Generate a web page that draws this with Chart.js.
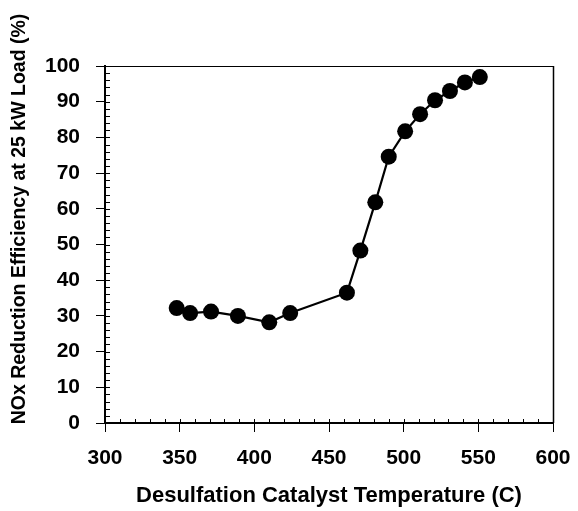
<!DOCTYPE html>
<html>
<head>
<meta charset="utf-8">
<script src="https://cdn.jsdelivr.net/npm/chart.js@4/dist/chart.umd.min.js"></script>
<style>
html,body{margin:0;padding:0;background:#fff;}
#wrap{width:578px;height:511px;position:relative;}
</style>
</head>
<body>
<div id="wrap"><canvas id="c" width="578" height="511"></canvas></div>
<script>
const temperatures = [348, 357, 371, 389, 410, 424, 462, 471, 481, 490, 501, 511, 521, 531, 541, 551];
const efficiency   = [32.2, 30.8, 31.2, 30.0, 28.2, 30.8, 36.5, 48.3, 61.8, 74.6, 81.7, 86.5, 90.4, 93.0, 95.4, 96.9];
const xTicks = [300, 350, 400, 450, 500, 550, 600];
const yTicks = [0, 10, 20, 30, 40, 50, 60, 70, 80, 90, 100];
const xTitle = 'Desulfation Catalyst Temperature (C)';
const yTitle = 'NOx Reduction Efficiency at 25 kW Load (%)';

const FONT = "'Liberation Sans', Arial, sans-serif";

const frameAndMinor = {
  id: 'frameAndMinor',
  afterDraw(chart) {
    const {ctx, chartArea: a, scales: {x, y}} = chart;
    ctx.save();
    ctx.strokeStyle = '#000';
    // top & right frame
    ctx.lineWidth = 1;
    ctx.beginPath();
    ctx.moveTo(a.left, a.top + 0.5);
    ctx.lineTo(a.right + 0.5, a.top + 0.5);
    ctx.stroke();
    ctx.lineWidth = 1.5;
    ctx.beginPath();
    ctx.moveTo(a.right + 0.5, a.top);
    ctx.lineTo(a.right + 0.5, a.bottom);
    ctx.stroke();
    // minor ticks
    ctx.lineWidth = 1;
    ctx.beginPath();
    for (let v = x.min; v <= x.max; v += 10) {
      const px = Math.round(x.getPixelForValue(v)) + 0.5;
      ctx.moveTo(px, a.bottom);
      ctx.lineTo(px, a.bottom - 4);
    }
    for (let v = y.min; v <= y.max; v += 2) {
      const py = Math.round(y.getPixelForValue(v)) + 0.5;
      ctx.moveTo(a.left, py);
      ctx.lineTo(a.left + 5, py);
    }
    ctx.stroke();
    // y title
    ctx.fillStyle = '#000';
    ctx.font = 'bold 19.5px ' + FONT;
    ctx.textAlign = 'center';
    ctx.textBaseline = 'middle';
    ctx.translate(20, 219);
    ctx.rotate(-Math.PI / 2);
    ctx.fillText(yTitle, 0, 0);
    ctx.restore();
  }
};

new Chart(document.getElementById('c'), {
  type: 'scatter',
  data: {
    datasets: [{
      data: temperatures.map((t, i) => ({x: t, y: efficiency[i]})),
      showLine: true,
      borderColor: '#000',
      borderWidth: 2.2,
      pointRadius: 8,
      pointHoverRadius: 8,
      pointBackgroundColor: '#000',
      pointBorderColor: '#000',
      pointBorderWidth: 0
    }]
  },
  options: {
    responsive: false,
    animation: false,
    devicePixelRatio: 1,
    layout: {padding: {top: 66, right: 25, left: 0, bottom: 0}},
    plugins: {legend: {display: false}, tooltip: {enabled: false}},
    scales: {
      x: {
        type: 'linear',
        min: 300, max: 600,
        afterFit(s) { s.height = 88; s.paddingLeft = 0; s.paddingRight = 0; },
        afterBuildTicks(s) { s.ticks = xTicks.map(v => ({value: v})); },
        ticks: {color: '#000', font: {family: FONT, size: 21, weight: 'bold'}, padding: 14},
        grid: {display: true, drawOnChartArea: false, drawTicks: true, tickLength: 9, color: '#000', lineWidth: 1},
        border: {display: true, color: '#000', width: 2},
        title: {display: true, text: xTitle, color: '#000', font: {family: FONT, size: 22, weight: 'bold'}, padding: {top: 4, bottom: 2}}
      },
      y: {
        type: 'linear',
        min: 0, max: 100,
        afterFit(s) { s.width = 105; s.paddingTop = 0; s.paddingBottom = 0; },
        afterBuildTicks(s) { s.ticks = yTicks.map(v => ({value: v})); },
        ticks: {color: '#000', font: {family: FONT, size: 21, weight: 'bold'}, padding: 16},
        grid: {display: true, drawOnChartArea: false, drawTicks: true, tickLength: 9, color: '#000', lineWidth: 1},
        border: {display: true, color: '#000', width: 2}
      }
    }
  },
  plugins: [frameAndMinor]
});
</script>
</body>
</html>
